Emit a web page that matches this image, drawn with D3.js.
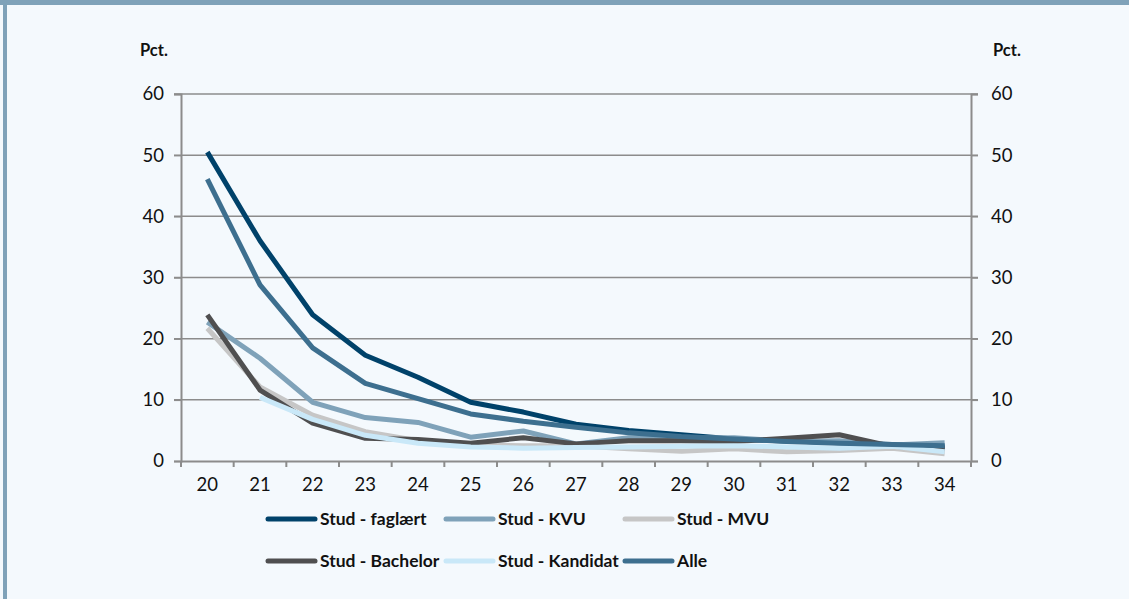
<!DOCTYPE html>
<html>
<head>
<meta charset="utf-8">
<script src="https://cdn.jsdelivr.net/npm/d3@7"></script>
<style>
  body { margin: 0; background: #f4f9fd; }
  svg { display: block; }
  text { font-family: "Lato", "Open Sans", sans-serif; fill: #111; }
</style>
</head>
<body>
<div id="chart"></div>
<script>
// ages on the x axis
const ages = [20, 21, 22, 23, 24, 25, 26, 27, 28, 29, 30, 31, 32, 33, 34];
const yTicks = [0, 10, 20, 30, 40, 50, 60];

// values (pct.)
const faglaert  = [50.5, 36.0, 23.9, 17.3, 13.7, 9.6, 8.0, 6.0, 5.0, 4.3, 3.6, 3.3, 3.0, 2.7, 2.3];
const kvu       = [22.7, 16.8, 9.6, 7.1, 6.3, 3.9, 4.9, 2.8, 3.8, 3.7, 3.8, 3.2, 3.3, 2.6, 3.0];
const mvu       = [21.7, 12.1, 7.5, 4.8, 3.3, 2.6, 2.5, 2.5, 2.0, 1.6, 2.0, 1.5, 1.7, 2.1, 1.2];
const bachelor  = [23.9, 11.6, 6.2, 3.7, 3.5, 2.9, 3.8, 2.8, 3.3, 3.3, 3.2, 3.7, 4.3, 2.4, 2.0];
const kandidat  = [null, 10.4, 6.8, 4.2, 2.9, 2.3, 2.1, 2.2, 2.3, 2.4, 2.5, 2.3, 2.1, 2.4, 1.5];
const alle      = [46.1, 28.8, 18.5, 12.7, 10.2, 7.7, 6.5, 5.5, 4.6, 4.0, 3.6, 3.2, 2.9, 2.7, 2.5];

const seriesNames  = ["Stud - faglært", "Stud - KVU", "Stud - MVU", "Stud - Bachelor", "Stud - Kandidat", "Alle"];
const seriesValues = [faglaert, kvu, mvu, bachelor, kandidat, alle];
const seriesColors = ["#00426a", "#7fa2b9", "#c6c6c6", "#4f4f50", "#c9e8f8", "#3d6f8f"];

const W = 1129, H = 599;
const svg = d3.select("#chart").append("svg")
    .attr("width", W)
    .attr("height", H);

// frame: header band and left edge
svg.append("rect").attr("x", 0).attr("y", 0).attr("width", W).attr("height", 5).attr("fill", "#7fa2b9");
svg.append("rect").attr("x", 3).attr("y", 0).attr("width", 4).attr("height", H).attr("fill", "#7fa2b9");

const x = d3.scaleBand()
    .domain(ages)
    .range([181, 971]);

const y = d3.scaleLinear()
    .domain([0, 60])
    .range([461, 94]);

// gridlines
svg.append("g")
    .selectAll("line")
    .data(yTicks.filter(d => d > 0))
    .join("line")
    .attr("x1", 174).attr("x2", 978)
    .attr("y1", d => y(d)).attr("y2", d => y(d))
    .attr("stroke", "#8c8c8c")
    .attr("stroke-width", 1.5);

// left axis
const left = svg.append("g")
    .attr("transform", "translate(181,0)")
    .call(d3.axisLeft(y).tickValues(yTicks).tickSize(7).tickPadding(10));
// right axis
const right = svg.append("g")
    .attr("transform", "translate(971,0)")
    .call(d3.axisRight(y).tickValues(yTicks).tickSize(7).tickPadding(13));
// bottom axis, ticks between the categories
const bottom = svg.append("g")
    .attr("transform", "translate(0,461)")
    .call(d3.axisBottom(x).tickSize(0).tickPadding(17));
bottom.selectAll(".tk")
    .data(ages.concat([35]))
    .join("line")
    .attr("class", "tk")
    .attr("x1", (d, i) => 181 + i * x.step()).attr("x2", (d, i) => 181 + i * x.step())
    .attr("y1", 0).attr("y2", 6)
    .attr("stroke", "#8c8c8c").attr("stroke-width", 2);

[left, right, bottom].forEach(g => {
    g.select(".domain").attr("stroke", "#8c8c8c").attr("stroke-width", 2);
    g.selectAll(".tick line").attr("stroke", "#8c8c8c").attr("stroke-width", 1.5);
    g.selectAll("text").style("font-size", "18.5px").attr("fill", "#111");
});

svg.append("text").text("Pct.")
    .attr("x", 140).attr("y", 56)
    .style("font-size", "16.5px").style("font-weight", "bold");
svg.append("text").text("Pct.")
    .attr("x", 993).attr("y", 56)
    .style("font-size", "16.5px").style("font-weight", "bold");

// lines
const line = d3.line()
    .defined(d => d.v != null)
    .x(d => x(d.age) + x.bandwidth() / 2)
    .y(d => y(d.v));

seriesValues.forEach((vals, i) => {
    svg.append("path")
        .datum(vals.map((v, j) => ({ age: ages[j], v: v })))
        .attr("d", line)
        .attr("fill", "none")
        .attr("stroke", seriesColors[i])
        .attr("stroke-width", 5)
        .attr("stroke-linejoin", "round");
});

// legend
const legX = [268, 446, 625];
const legY = [519, 561];
seriesNames.forEach((name, i) => {
    const lx = legX[i % 3], ly = legY[Math.floor(i / 3)];
    svg.append("line")
        .attr("x1", lx).attr("x2", lx + 47)
        .attr("y1", ly).attr("y2", ly)
        .attr("stroke", seriesColors[i])
        .attr("stroke-width", 5)
        .attr("stroke-linecap", "round");
    svg.append("text").text(name)
        .attr("x", lx + 52).attr("y", ly + 6)
        .style("font-size", "17.5px").style("font-weight", "bold");
});
</script>
</body>
</html>
